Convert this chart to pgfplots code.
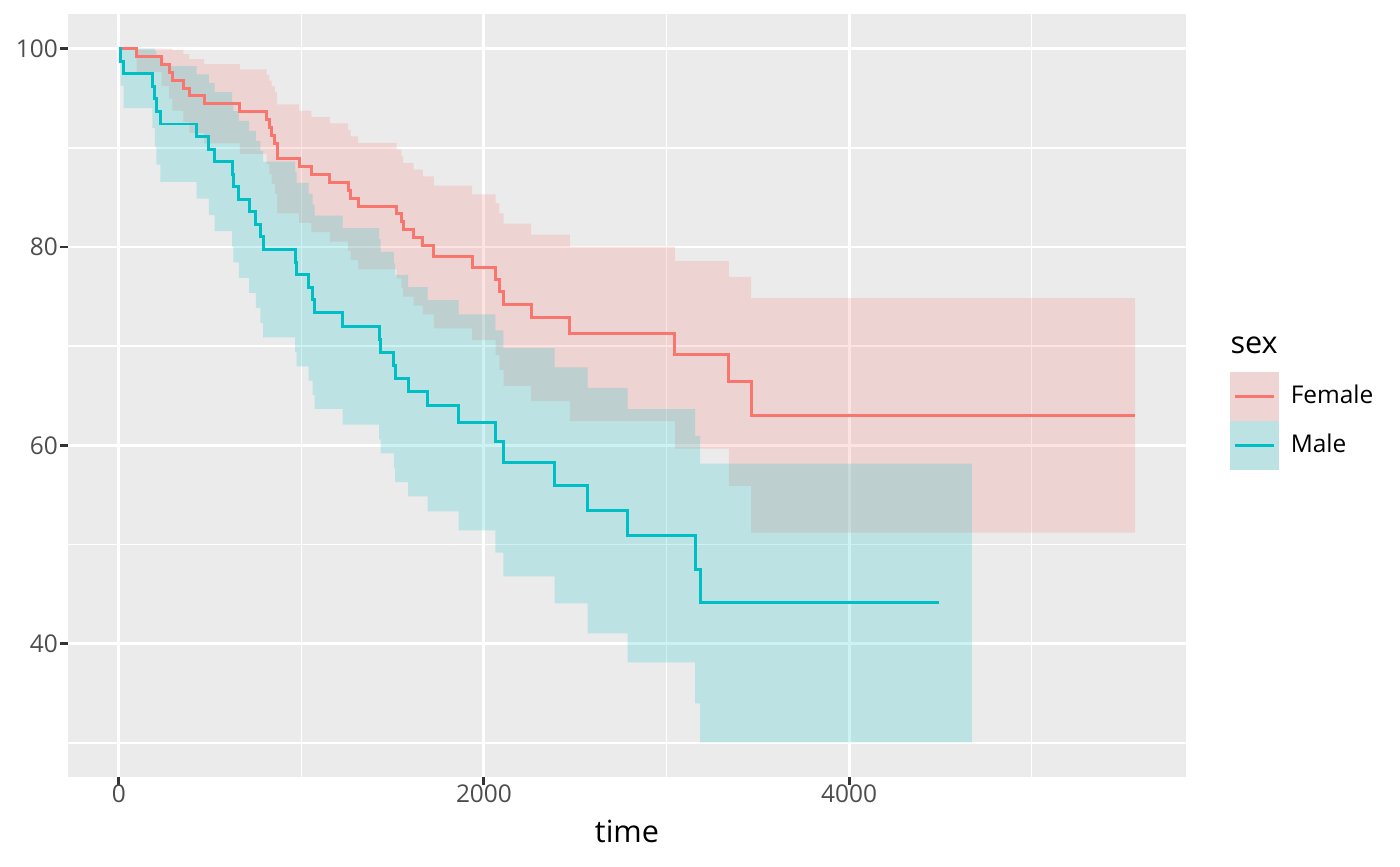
\documentclass[border=0pt]{standalone}
\usepackage{fontspec}
\setmainfont{Open Sans}
\usepackage{pgfplots}
\usepackage{pgfplotstable}
\pgfplotsset{compat=1.18}
\usepgfplotslibrary{fillbetween}
\definecolor{femcol}{HTML}{F8766D}
\definecolor{malecol}{HTML}{00BFC4}
\definecolor{panelbg}{HTML}{EBEBEB}
\definecolor{grey30}{HTML}{4D4D4D}
\definecolor{grey20}{HTML}{333333}
\definecolor{femkey}{RGB}{238,212,210}
\definecolor{malekey}{RGB}{188,226,227}

\pgfplotstableread{
t s lo hi
0 100 100 100
97 99.206 97.66 100
234 98.413 96.23 100
276 97.619 94.96 100
294 96.825 93.76 99.89
353 96.032 92.62 99.44
386 95.238 91.52 98.96
467 94.444 90.44 98.44
663 93.651 89.39 97.91
809 92.857 88.36 97.35
824 92.063 87.34 96.78
837 91.270 86.34 96.20
855 90.476 85.35 95.60
867 88.889 83.40 94.38
988 88.095 82.44 93.75
1055 87.302 81.49 93.12
1156 86.508 80.54 92.47
1256 85.714 79.60 91.82
1269 84.921 78.67 91.17
1311 84.127 77.75 90.51
1521 83.333 76.83 89.84
1548 82.540 75.91 89.17
1557 81.746 75.00 88.49
1615 80.952 74.10 87.81
1665 80.159 73.20 87.12
1725 79.0 71.8 86.2
1935 77.95 70.6 85.3
2064 76.75 69.1 84.4
2085 75.5 67.6 83.4
2108 74.2 66.0 82.35
2258 72.85 64.45 81.25
2470 71.25 62.45 80.05
3045 69.14 59.67 78.6
3341 66.45 55.9 77.0
3463 63.02 51.2 74.85
5567 63.02 51.2 74.85
}\fem

\pgfplotstableread{
t lo hi
0 100 100
10 96.27 100
27 94.00 100
184 91.99 100
197 90.10 99.77
206 88.30 99.04
228 86.56 98.25
426 84.87 97.41
493 83.22 96.53
525 81.60 95.61
621 80.01 94.67
628 78.44 93.71
658 76.90 92.73
714 75.37 91.72
751 73.86 90.70
776 72.36 89.66
791 70.88 88.61
966 69.42 87.54
974 67.97 86.46
1039 66.52 85.37
1061 65.09 84.27
1072 63.68 83.16
1226 62.1 81.9
1426 60.6 80.8
1434 59.2 79.5
1507 57.75 78.35
1514 56.3 77.2
1584 54.85 75.95
1692 53.35 74.65
1861 51.43 73.2
2062 49.18 71.6
2106 46.79 69.8
2387 44.07 67.85
2568 41.04 65.8
2787 38.12 63.65
3156 33.98 60.95
3184 30.05 58.15
4672 30.05 58.15
}\maleband

\pgfplotstableread{
t s
0 100
10 98.734
27 97.468
184 96.203
197 94.937
206 93.671
228 92.405
426 91.139
493 89.873
525 88.608
621 87.342
628 86.076
658 84.810
714 83.544
751 82.278
776 81.013
791 79.747
966 78.481
974 77.215
1039 75.949
1061 74.684
1072 73.418
1226 72.0
1426 70.7
1434 69.35
1507 68.05
1514 66.75
1584 65.4
1692 64.0
1861 62.32
2062 60.40
2106 58.30
2387 55.97
2568 53.41
2787 50.89
3156 47.46
3184 44.11
4495 44.11
}\maleline

\begin{document}
\begin{tikzpicture}
\begin{axis}[
  at={(24.48pt,32.04pt)}, anchor=south west,
  scale only axis, width=402.48pt, height=274.68pt,
  xmin=-278.35, xmax=5845.35, ymin=26.55, ymax=103.5,
  axis background/.style={fill=panelbg},
  axis line style={draw=none},
  xtick={0,2000,4000}, xticklabels={0,2000,4000},
  ytick={40,60,80,100}, yticklabels={40,60,80,100},
  minor xtick={1000,3000,5000}, minor ytick={30,50,70,90},
  grid=both,
  major grid style={white, line width=1.07pt},
  minor grid style={white, line width=0.53pt},
  tick pos=left, tick align=outside,
  major tick length=2.75pt, minor tick length=0pt,
  every tick/.style={grey20, line width=1.07pt},
  xticklabel style={font=\fontsize{8.8}{10}\selectfont, text=grey30, anchor=north, inner sep=0pt, yshift=0pt},
  yticklabel style={font=\fontsize{8.8}{10}\selectfont, text=grey30, anchor=east, inner sep=0pt, xshift=-0.7pt},
  xlabel={time},
  xlabel style={font=\fontsize{11}{13}\selectfont, at={(axis description cs:0.5,0)}, anchor=base, yshift=-23.4pt, inner sep=0pt},
  legend style={draw=none, fill=none, at={(1.0394,0.5307)}, anchor=north west, inner sep=0pt, outer sep=0pt, row sep=0pt, column sep=4.2pt, font=\fontsize{8.8}{10}\selectfont, nodes={inner sep=0pt, text=black}},
  legend cell align=left,
]
\addplot[const plot, draw=none, name path=fU, forget plot] table[x=t, y=hi] {\fem};
\addplot[const plot, draw=none, name path=fL, forget plot] table[x=t, y=lo] {\fem};
\addplot[fill=femcol, fill opacity=0.2, draw=none, forget plot] fill between[of=fU and fL];
\addplot[const plot, draw=none, name path=mU, forget plot] table[x=t, y=hi] {\maleband};
\addplot[const plot, draw=none, name path=mL, forget plot] table[x=t, y=lo] {\maleband};
\addplot[fill=malecol, fill opacity=0.2, draw=none, forget plot] fill between[of=mU and mL];

\addplot[const plot, color=femcol, line width=1.07pt,
  legend image code/.code={\fill[femkey] (0pt,-8.3pt) rectangle (16.6pt,8.3pt);
    \draw[femcol, line width=1.07pt] (1.2pt,0pt) -- (15.4pt,0pt);}]
  table[x=t, y=s] {\fem};
\addlegendentry{Female}
\addplot[const plot, color=malecol, line width=1.07pt,
  legend image code/.code={\fill[malekey] (0pt,-8.3pt) rectangle (16.6pt,8.3pt);
    \draw[malecol, line width=1.07pt] (1.2pt,0pt) -- (15.4pt,0pt);}]
  table[x=t, y=s] {\maleline};
\addlegendentry{Male}
\end{axis}
\node[anchor=base west, inner sep=0pt, font=\fontsize{11}{13}\selectfont] at (442.8pt,184.66pt) {sex};
\pgfresetboundingbox
\path (0,0) rectangle (504pt,311.76pt);
\end{tikzpicture}
\end{document}
